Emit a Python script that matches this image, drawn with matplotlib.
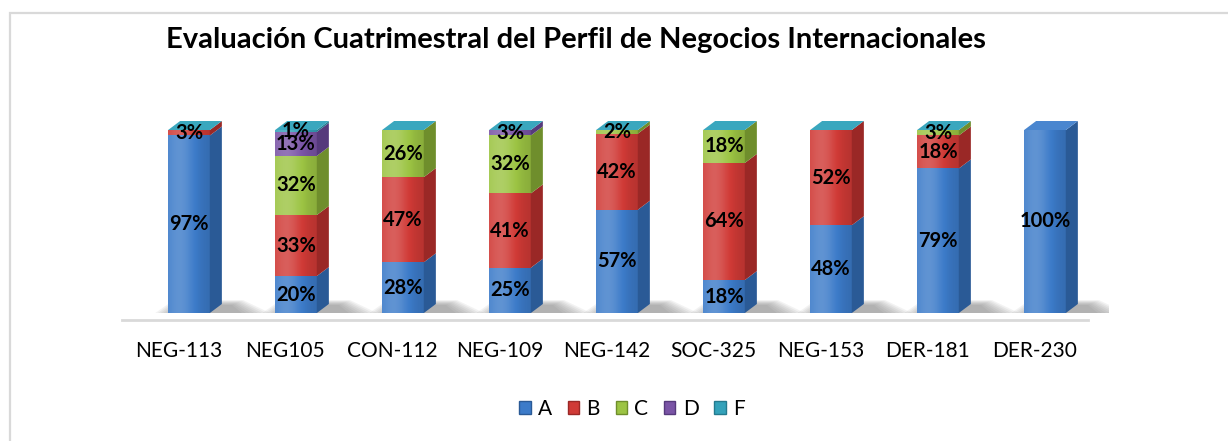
import matplotlib
matplotlib.use('Agg')
from matplotlib import pyplot as plt
from matplotlib.patches import Polygon, Rectangle, Patch
import numpy as np

# datos
categorias = ['NEG-113', 'NEG105', 'CON-112', 'NEG-109', 'NEG-142',
              'SOC-325', 'NEG-153', 'DER-181', 'DER-230']
nota_a = [97, 20, 28, 25, 57, 18, 48, 79, 100]
nota_b = [3, 33, 47, 41, 42, 64, 52, 18, np.nan]
nota_c = [0, 32, 26, 32, 2, 18, 0, 3, np.nan]
nota_d = [0, 13, 0, 3, 0, 0, 0, 0, np.nan]
nota_f = [0, 1, 0, 0, 0, 0, 0, 0, np.nan]
series = ['A', 'B', 'C', 'D', 'F']
titulo = 'Evaluación Cuatrimestral del Perfil de Negocios Internacionales'

# colores (frente, lado, tapa)
frente = ['#3C7BC9', '#D03A36', '#9CC443', '#7A54A6', '#34A2BA']
lado = ['#2A5A96', '#9A2826', '#6F8E2C', '#563A7C', '#247A8E']
arriba = ['#4A86CF', '#D9544F', '#A9CC55', '#8A66B2', '#3AA7BE']

plt.rcParams['font.family'] = ['Lato', 'DejaVu Sans']

W, H = 1228, 441
fig = plt.figure(figsize=(W / 100, H / 100), dpi=100)
fig.patch.set_facecolor('white')

# marco
fig.patches.append(Rectangle((10 / W, -0.05), 1.2, 1 - 13 / H + 0.05, transform=fig.transFigure,
                             fill=False, ec='#D9D9D9', lw=1.6))

# ejes en pixeles
x0, x1 = -0.65, 8.6
y0, y1 = -4, 105
px_x = 107.0
px_y = 1.83
izq = 189 - (0 - x0) * px_x
der = 189 + (x1 - 0) * px_x
abajo = 313 + (0 - y0) * px_y
arr = 313 - (y1 - 0) * px_y
ax = fig.add_axes([izq / W, 1 - abajo / H, (der - izq) / W, (abajo - arr) / H])
ax.set_xlim(x0, x1)
ax.set_ylim(y0, y1)
ax.axis('off')

datos = np.array([nota_a, nota_b, nota_c, nota_d, nota_f], dtype=float)
x = np.arange(len(categorias))
ancho = 0.39
dx = 12 / px_x
dy = 9 / px_y

totales = np.nansum(datos, axis=0)
norm = datos / totales * 100

# sombras
for i in x:
    xl = i - ancho / 2
    xr = i + ancho / 2
    for k in range(8):
        f = k / 8
        pts = [(xl - 0.12 + f * 0.2, 0), (xr + dx + 0.45 - f * 0.3, 0),
               (xr + dx + 0.2 - f * 0.12, 7 - f * 3), (xl + 0.05 + f * 0.1, 7 - f * 3)]
        ax.add_patch(Polygon(pts, closed=True, fc='#707070', ec='none', alpha=0.085, zorder=1))

# piso
ax.plot([x0 + 0.02, 8.4], [y0, y0], color='#D9D9D9', lw=2, clip_on=False, zorder=1)

fondo = np.zeros(len(categorias))
for s in range(len(series)):
    alto = np.nan_to_num(norm[s])
    barras = ax.bar(x, alto, bottom=fondo, width=ancho, color=frente[s], lw=0, zorder=3)
    for i, b in enumerate(barras):
        if alto[i] <= 0:
            continue
        xr = x[i] + ancho / 2
        lado_pts = [(xr, fondo[i]), (xr + dx, fondo[i] + dy),
                    (xr + dx, fondo[i] + alto[i] + dy), (xr, fondo[i] + alto[i])]
        ax.add_patch(Polygon(lado_pts, closed=True, fc=lado[s], ec='none', zorder=3))
        # brillo del frente
        grad = np.linspace(0, 1, 50)
        grad = 0.22 * np.exp(-((grad - 0.3) / 0.35) ** 2) - 0.12 * grad
        img = np.zeros((1, 50, 4))
        img[..., :3] = np.where(grad[None, :, None] > 0, 1.0, 0.0)
        img[..., 3] = np.abs(grad)[None, :]
        im = ax.imshow(img, extent=(x[i] - ancho / 2, xr, fondo[i], fondo[i] + alto[i]),
                       aspect='auto', zorder=3.5, interpolation='bilinear')
        im.set_clip_path(b)
        valor = datos[s, i]
        ax.text(x[i], fondo[i] + alto[i] / 2, '%d%%' % valor, ha='center', va='center',
                fontsize=14.5, fontweight='bold', color='black', zorder=5)
    fondo = fondo + alto

# tapa superior
for i in x:
    ult = max(s for s in range(len(series)) if not np.isnan(datos[s, i]))
    xl = i - ancho / 2
    xr = i + ancho / 2
    top = fondo[i]
    pts = [(xl, top), (xl + dx, top + dy), (xr + dx, top + dy), (xr, top)]
    ax.add_patch(Polygon(pts, closed=True, fc=arriba[ult], ec='none', zorder=4))

ax.set_xticks(x)
for i, c in enumerate(categorias):
    ax.text(x[i] - 0.1, y0 - 17, c, ha='center', va='center', fontsize=15, color='black')

fig.text(576 / W, 1 - 40 / H, titulo, ha='center', va='center', fontsize=21, fontweight='bold')

manejadores = [Patch(facecolor=frente[s], edgecolor=lado[s], lw=1) for s in range(len(series))]
fig.legend(manejadores, series, loc='center', bbox_to_anchor=(632 / W, 1 - 409 / H), ncol=5,
           frameon=False, fontsize=15, handlelength=0.55, handleheight=0.55, handletextpad=0.35,
           columnspacing=0.75)

fig.savefig('out.png', dpi=100)
